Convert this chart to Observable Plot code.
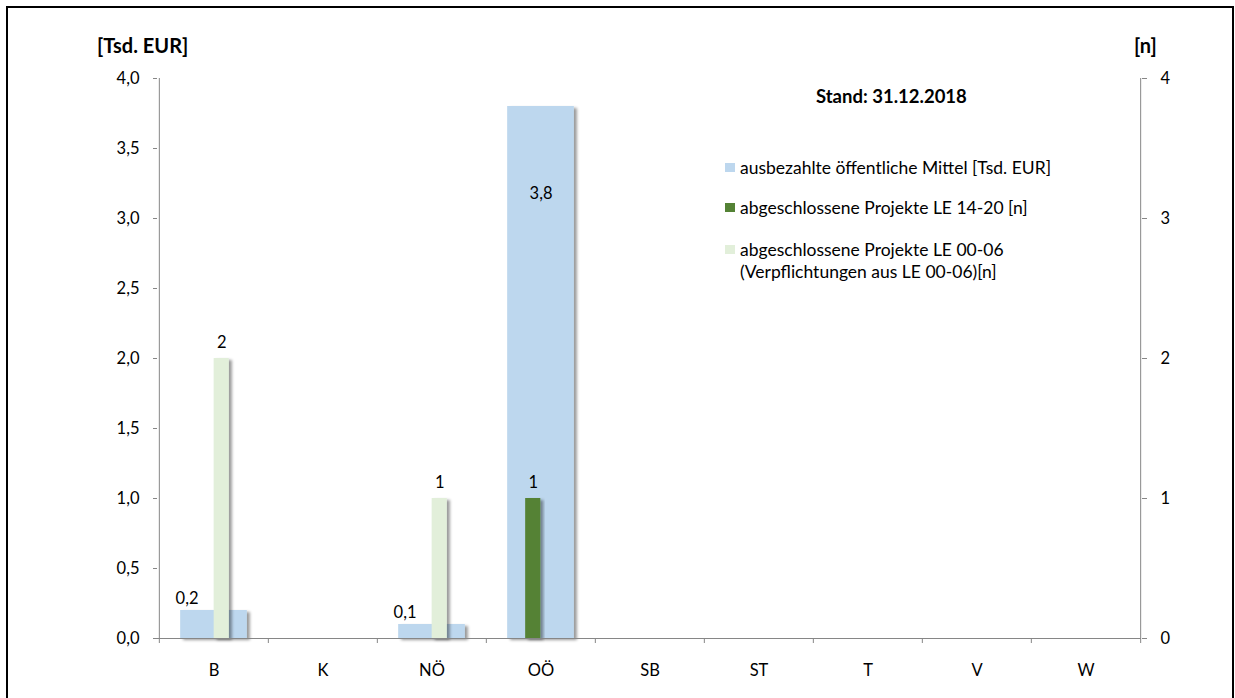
<!DOCTYPE html>
<html><head><meta charset="utf-8">
<script src="https://cdn.jsdelivr.net/npm/d3@7"></script>
<script src="https://cdn.jsdelivr.net/npm/@observablehq/plot@0.6"></script>
<style>
body{margin:0;background:#fff;font-family:Lato,"Open Sans",sans-serif;color:#000;}
#wrap{position:relative;width:1235px;height:698px;overflow:hidden;}
#frame{position:absolute;left:6px;top:6px;width:1228px;height:720px;border:2px solid #000;box-sizing:border-box;pointer-events:none;}
#chart{position:absolute;left:0;top:0;}
.ttl{position:absolute;font-weight:bold;white-space:nowrap;}
#lyl{left:97px;top:33px;font-size:20px;}
#lyr{left:1134px;top:33px;font-size:20px;}
#stand{left:816px;top:85px;font-size:18.5px;}
#legend{position:absolute;left:725px;top:157px;font-size:17.5px;}
.li{position:relative;padding-left:15px;line-height:22px;white-space:nowrap;}
.sw{position:absolute;left:0;top:6px;width:10px;height:9px;}
</style></head>
<body>
<div id="wrap">
  <div id="chart"></div>
  <div class="ttl" id="lyl">[Tsd. EUR]</div>
  <div class="ttl" id="lyr">[n]</div>
  <div class="ttl" id="stand">Stand: 31.12.2018</div>
  <div id="legend"></div>
  <div id="frame"></div>
</div>
<script>
const regions = ["B","K","NÖ","OÖ","SB","ST","T","V","W"];
const funds = [0.2,0,0.1,3.8,0,0,0,0,0];            // [Tsd. EUR]
const projects1420 = [0,0,0,1,0,0,0,0,0];          // [n]
const projects0006 = [2,0,1,0,0,0,0,0,0];          // [n]
const leftTicks = [0,0.5,1,1.5,2,2.5,3,3.5,4];
const rightTicks = [0,1,2,3,4];
const seriesNames = [
  "ausbezahlte öffentliche Mittel [Tsd. EUR]",
  "abgeschlossene Projekte LE 14-20 [n]",
  "abgeschlossene Projekte LE 00-06<br>(Verpflichtungen aus LE 00-06)[n]"
];
const colors = ["#bdd7ee","#548235","#e2efda"];

const rows = regions.map((r,i)=>({region:r, funds:funds[i], p1420:projects1420[i], p0006:projects0006[i]}));
const fmt1 = d => d.toFixed(1).replace(".", ",");

const W=1235, H=698, mL=157, mR=94, mT=78, mB=60;
const bw = (W-mL-mR)/regions.length;
const half = bw/2, gw = 15.5, blueInset = (bw-67)/2;
const axisGray = "#868686";
const tickLen = 5/((H-mT-mB)/4);

const plot = Plot.plot({
  width: W, height: H,
  marginLeft: mL, marginRight: mR, marginTop: mT, marginBottom: mB,
  style: {fontFamily: "Lato, 'Open Sans', sans-serif", fontSize: "16.5px", color: "#000", background: "transparent"},
  x: {domain: regions, padding: 0},
  y: {domain: [0,4]},
  marks: [
    Plot.barY(rows.filter(d=>d.funds>0), {x:"region", y:"funds", fill:colors[0], insetLeft:blueInset, insetRight:blueInset}),
    Plot.barY(rows.filter(d=>d.p1420>0), {x:"region", y:"p1420", fill:colors[1], insetLeft:half-gw, insetRight:half}),
    Plot.barY(rows.filter(d=>d.p0006>0), {x:"region", y:"p0006", fill:colors[2], insetLeft:half, insetRight:half-gw}),
    // value labels
    Plot.text(rows.filter(d=>d.funds>0 && d.funds<1), {x:"region", y:"funds", text:d=>fmt1(d.funds), dx:-27, dy:-12}),
    Plot.text(rows.filter(d=>d.funds>=1), {x:"region", y:"funds", text:d=>fmt1(d.funds), dy:87}),
    Plot.text(rows.filter(d=>d.p1420>0), {x:"region", y:"p1420", text:d=>String(d.p1420), dx:-gw/2, dy:-16}),
    Plot.text(rows.filter(d=>d.p0006>0), {x:"region", y:"p0006", text:d=>String(d.p0006), dx:gw/2, dy:-16}),
    // axis lines
    Plot.ruleY([0], {stroke: axisGray}),
    Plot.ruleX([regions[0]], {x:d=>d, y1:0, y2:4, dx:-half, stroke:axisGray}),
    Plot.ruleX([regions[regions.length-1]], {x:d=>d, y1:0, y2:4, dx:half, stroke:axisGray}),
    // category boundary ticks
    Plot.ruleX(regions, {x:d=>d, y1:0, y2:-tickLen, dx:-half, stroke:axisGray}),
    Plot.ruleX([regions[regions.length-1]], {x:d=>d, y1:0, y2:-tickLen, dx:half, stroke:axisGray}),
    Plot.axisY({anchor:"left", ticks:leftTicks, tickFormat:fmt1, tickSize:4, tickPadding:14, label:null, stroke:axisGray, fill:"#000"}),
    Plot.axisY({anchor:"right", ticks:rightTicks, tickFormat:d=>String(d), tickSize:5, tickPadding:14, label:null, stroke:axisGray, fill:"#000"}),
    Plot.axisX({tickSize:0, tickPadding:26, label:null, fill:"#000"})
  ]
});

// drop shadow like the original
const ns = "http://www.w3.org/2000/svg";
const defs = document.createElementNS(ns, "defs");
defs.innerHTML = '<filter id="sh" x="-30%" y="-10%" width="160%" height="120%"><feDropShadow dx="3" dy="2" stdDeviation="1.5" flood-color="#000" flood-opacity="0.4"/></filter>';
plot.insertBefore(defs, plot.firstChild);
plot.querySelectorAll('g[aria-label="bar"]').forEach(g=>g.setAttribute("filter","url(#sh)"));
document.getElementById("chart").appendChild(plot);

const lg = document.getElementById("legend");
const tops = [0, 40, 82];
seriesNames.forEach((n,i)=>{
  const d = document.createElement("div");
  d.className = "li";
  d.style.position = "absolute"; d.style.top = tops[i]+"px";
  d.innerHTML = `<span class="sw" style="background:${colors[i]}"></span>${n}`;
  lg.appendChild(d);
});
</script>
</body></html>
